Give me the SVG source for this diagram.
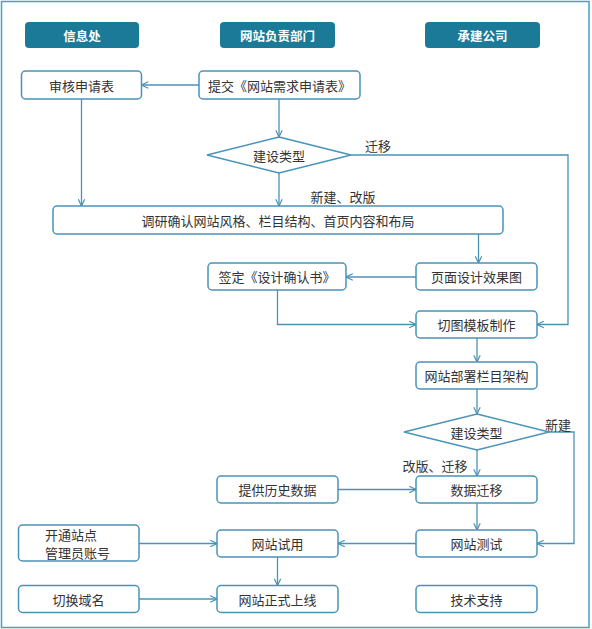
<svg xmlns="http://www.w3.org/2000/svg" width="592" height="629" viewBox="0 0 592 629">
<defs>
<style>
.hdr{fill:#1b7a97;}
.hdrt{fill:#ffffff;font-family:"Noto Sans CJK SC","Noto Sans",sans-serif;font-size:12.5px;font-weight:bold;text-anchor:middle;dominant-baseline:central;}
.box{fill:#ffffff;stroke:#4a93b6;stroke-width:1.5;}
.t{fill:#333333;font-family:"Noto Sans CJK SC","Noto Sans",sans-serif;font-size:13px;text-anchor:middle;dominant-baseline:central;}
.tl{fill:#333333;font-family:"Noto Sans CJK SC","Noto Sans",sans-serif;font-size:13px;dominant-baseline:central;}
.c{fill:none;stroke:#4a93b6;stroke-width:1.3;}
.ca{fill:none;stroke:#4a93b6;stroke-width:1.3;marker-end:url(#arr);}
</style>
<marker id="arr" viewBox="0 0 10 10" refX="9.5" refY="5" markerWidth="8" markerHeight="8" markerUnits="userSpaceOnUse" orient="auto">
<path d="M1,1 L9.5,5 L1,9" fill="none" stroke="#4a93b6" stroke-width="1.5"/>
</marker>
</defs>
<rect x="0" y="0" width="592" height="629" fill="#ffffff"/>
<rect x="1.5" y="1.5" width="587.5" height="626" fill="#ffffff" stroke="#4a9fc0" stroke-width="1.5"/>

<g id="header-xinxichu"><rect class="hdr" x="25" y="22" width="114" height="26" rx="4"/><text class="hdrt" x="82" y="35">信息处</text></g>
<g id="header-fuzebumen"><rect class="hdr" x="220" y="22" width="115" height="26" rx="4"/><text class="hdrt" x="277.5" y="35">网站负责部门</text></g>
<g id="header-chengjian"><rect class="hdr" x="425" y="22" width="115" height="26" rx="4"/><text class="hdrt" x="482.5" y="35">承建公司</text></g>

<g id="connectors">
<path class="ca" d="M199,85 L141.5,85"/>
<path class="ca" d="M279,99 L279,137"/>
<path class="ca" d="M81.5,99 L81.5,206"/>
<path class="ca" d="M279,173 L279,206"/>
<path class="ca" d="M351,155 L568,155 L568,324.5 L537,324.5"/>
<path class="ca" d="M478.5,234 L478.5,263"/>
<path class="ca" d="M416,277 L346,277"/>
<path class="ca" d="M277.5,290 L277.5,324.5 L416,324.5"/>
<path class="ca" d="M477,338 L477,362"/>
<path class="ca" d="M477,389 L477,414"/>
<path class="ca" d="M477,450 L477,476"/>
<path class="ca" d="M549,432 L574,432 L574,543.5 L537,543.5"/>
<path class="ca" d="M338,489.5 L416,489.5"/>
<path class="ca" d="M477,503 L477,530"/>
<path class="ca" d="M416,543.5 L338,543.5"/>
<path class="ca" d="M139,543.5 L217,543.5"/>
<path class="ca" d="M277.5,557 L277.5,585.5"/>
<path class="ca" d="M139,599 L217,599"/>
<text class="t" x="378" y="145">迁移</text>
<text class="t" x="343" y="196">新建、改版</text>
<text class="t" x="558" y="424">新建</text>
<text class="t" x="435" y="465">改版、迁移</text>
</g>

<g id="n-shenhe"><rect class="box" x="21.5" y="71" width="120" height="28" rx="4"/><text class="t" x="81.5" y="85">审核申请表</text></g>
<g id="n-tijiao"><rect class="box" x="199" y="71" width="161" height="28" rx="4"/><text class="t" x="279.5" y="85">提交《网站需求申请表》</text></g>
<g id="d-leixing1"><polygon class="box" points="279,137 351,155 279,173 207,155"/><text class="t" x="279" y="155">建设类型</text></g>
<g id="n-diaoyan"><rect class="box" x="53" y="206" width="450" height="28" rx="4"/><text class="t" x="278" y="220">调研确认网站风格、栏目结构、首页内容和布局</text></g>
<g id="n-yemian"><rect class="box" x="416" y="263" width="121" height="27" rx="4"/><text class="t" x="476.5" y="276.5">页面设计效果图</text></g>
<g id="n-qianding"><rect class="box" x="208" y="263" width="138" height="27" rx="4"/><text class="t" x="277" y="276.5">签定《设计确认书》</text></g>
<g id="n-qietu"><rect class="box" x="416" y="311" width="121" height="27" rx="4"/><text class="t" x="476.5" y="324.5">切图模板制作</text></g>
<g id="n-bushu"><rect class="box" x="416" y="362" width="121" height="27" rx="4"/><text class="t" x="476.5" y="375.5">网站部署栏目架构</text></g>
<g id="d-leixing2"><polygon class="box" points="477,414 549,432 477,450 404,432"/><text class="t" x="476.5" y="432">建设类型</text></g>
<g id="n-shuju"><rect class="box" x="416" y="476" width="121" height="27" rx="4"/><text class="t" x="476.5" y="489.5">数据迁移</text></g>
<g id="n-lishi"><rect class="box" x="217" y="476" width="121" height="27" rx="4"/><text class="t" x="277.5" y="489.5">提供历史数据</text></g>
<g id="n-ceshi"><rect class="box" x="416" y="530" width="121" height="27" rx="4"/><text class="t" x="476.5" y="543.5">网站测试</text></g>
<g id="n-shiyong"><rect class="box" x="217" y="530" width="121" height="27" rx="4"/><text class="t" x="277.5" y="543.5">网站试用</text></g>
<g id="n-kaitong"><rect class="box" x="18.5" y="525" width="120.5" height="36" rx="4"/><text class="tl" x="45" y="534.5">开通站点</text><text class="tl" x="45" y="552">管理员账号</text></g>
<g id="n-shangxian"><rect class="box" x="217" y="585.5" width="121" height="27" rx="4"/><text class="t" x="277.5" y="599">网站正式上线</text></g>
<g id="n-qiehuan"><rect class="box" x="18.5" y="585.5" width="120.5" height="27" rx="4"/><text class="t" x="78.5" y="599">切换域名</text></g>
<g id="n-jishu"><rect class="box" x="416" y="585.5" width="121" height="27" rx="4"/><text class="t" x="476.5" y="599">技术支持</text></g>
</svg>
